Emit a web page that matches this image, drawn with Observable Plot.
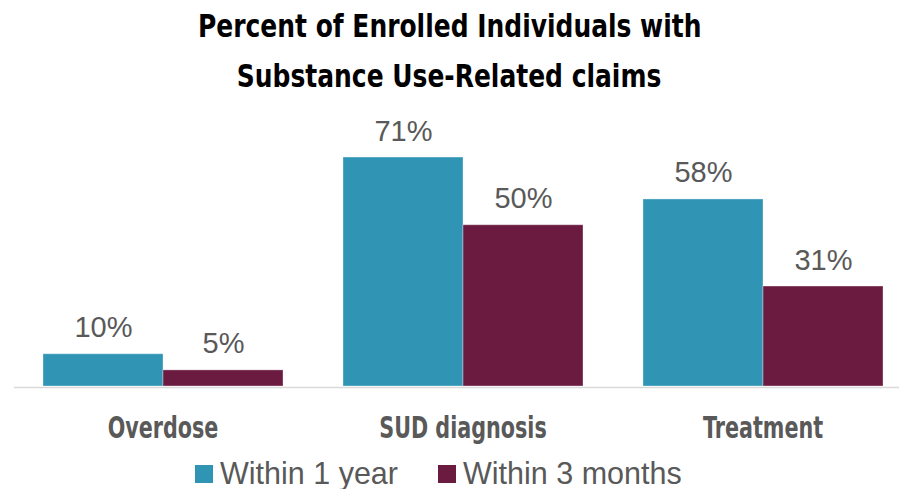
<!DOCTYPE html>
<html>
<head>
<meta charset="utf-8">
<script src="https://cdn.jsdelivr.net/npm/d3@7"></script>
<script src="https://cdn.jsdelivr.net/npm/@observablehq/plot@0.6"></script>
<style>
  html, body { margin: 0; padding: 0; background: #fff; }
  body { width: 899px; height: 489px; overflow: hidden; position: relative; }
  #title {
    position: absolute; left: 0; top: 0; width: 899px; text-align: center;
    font-family: "DejaVu Sans", sans-serif;
    font-weight: bold; font-size: 32px; line-height: 50px; color: #000;
    padding-top: 1px;
  }
  #title span { display: inline-block; transform: scaleX(0.78); transform-origin: 50% 50%; white-space: nowrap; }
  #chart { position: absolute; left: 0; top: 100px; }
  #legend {
    position: absolute; left: 195px; top: 456px; display: flex; align-items: center;
    font-family: "Liberation Sans", Arial, sans-serif; font-size: 30.5px; line-height: 34px; color: #595959;
  }
  .item { display: flex; align-items: center; margin-right: 40px; }
  .item span { white-space: nowrap; }
  .sw { width: 18px; height: 18px; margin-right: 7px; margin-top: 2px; }
</style>
</head>
<body>
<div id="title"><span>Percent of Enrolled Individuals with</span><br><span>Substance Use-Related claims</span></div>
<div id="chart"></div>
<div id="legend"></div>
<script>
const categories = ["Overdose", "SUD diagnosis", "Treatment"];
const seriesNames = ["Within 1 year", "Within 3 months"];
const within1Year = [10, 71, 58];
const within3Months = [5, 50, 31];
const colors = ["#3094B4", "#6B1A40"];

const data = [];
categories.forEach((c, i) => {
  data.push({cat: c, series: seriesNames[0], value: within1Year[i]});
  data.push({cat: c, series: seriesNames[1], value: within3Months[i]});
});

const chart = Plot.plot({
  width: 899,
  height: 340,
  marginLeft: 41,
  marginRight: 14,
  marginTop: 28,
  marginBottom: 54,
  fx: {domain: categories, paddingInner: 0.196, paddingOuter: 0, axis: null, label: null},
  x: {domain: seriesNames, padding: 0, axis: null, label: null},
  y: {domain: [0, 80], axis: null, label: null},
  color: {domain: seriesNames, range: colors},
  style: {fontFamily: "Liberation Sans, Arial, sans-serif", background: "transparent", overflow: "visible"},
  marks: [
    Plot.ruleY([0], {stroke: "#D9D9D9", strokeWidth: 1.5, insetLeft: -28, insetRight: -31, dy: 1}),
    Plot.barY(data, {fx: "cat", x: "series", y: "value", fill: "series", stroke: "#ffffff", strokeOpacity: 0.35, strokeWidth: 1}),
    Plot.text(data, {fx: "cat", x: "series", y: "value", text: d => d.value + "%", lineAnchor: "bottom", dy: -17, fontSize: 29, fill: "#595959"}),
    Plot.axisFx({anchor: "bottom", tickSize: 0, tickPadding: 30, label: null, fontSize: 30, fontWeight: "bold",
      fontFamily: "DejaVu Sans, sans-serif", fill: "#595959"})
  ]
});
document.getElementById("chart").appendChild(chart);

// condense the bold category labels (no condensed face is installed)
d3.select(chart).selectAll("text").each(function() {
  const el = this;
  if (categories.includes(el.textContent)) {
    const w = el.getComputedTextLength();
    el.setAttribute("textLength", (w * 0.69).toFixed(1));
    el.setAttribute("lengthAdjust", "spacingAndGlyphs");
  }
});

const legend = document.getElementById("legend");
seriesNames.forEach((s, i) => {
  const item = document.createElement("div");
  item.className = "item";
  const sw = document.createElement("div");
  sw.className = "sw";
  sw.style.background = colors[i];
  const t = document.createElement("span");
  t.textContent = s;
  item.appendChild(sw);
  item.appendChild(t);
  legend.appendChild(item);
});
</script>
</body>
</html>
